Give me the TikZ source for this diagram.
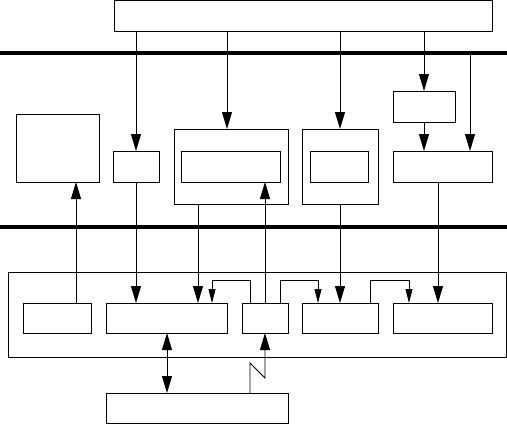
\documentclass[tikz,border=0pt]{standalone}
\usetikzlibrary{arrows.meta,fit}
\begin{document}
\begin{tikzpicture}[x=1pt,y=-1pt,
  box/.style={draw,line width=0.9pt,inner sep=0pt,outer sep=0pt},
  ln/.style={line width=0.9pt},
  arr/.style={ln,-{Triangle[length=17pt,width=10pt]}},
  sarr/.style={ln,-{Triangle[length=14pt,width=7pt]}},
  darr/.style={ln,{Triangle[length=17pt,width=10pt]}-{Triangle[length=17pt,width=10pt]}},
  bus/.style={line width=4pt}]
\useasboundingbox (0,0) rectangle (507,424);
% boxes
\node[box,fit={(114,0.5) (492,31)}] (top) {};
\node[box,fit={(16,114) (99,182)}] (left) {};
\node[box,fit={(113,151) (159,182)}] (s1) {};
\node[box,fit={(174,129) (288,204)}] (bigo) {};
\node[box,fit={(181,151) (280,182)}] (bigi) {};
\node[box,fit={(302,129) (378,204)}] (mido) {};
\node[box,fit={(310,151) (368,182)}] (midi) {};
\node[box,fit={(393,91) (455,122)}] (sm) {};
\node[box,fit={(393,151) (492,182)}] (rt) {};
\node[box,fit={(8,272) (506,357)}] (cont) {};
\node[box,fit={(23,303) (91,333)}] (l1) {};
\node[box,fit={(106,303) (227,333)}] (l2) {};
\node[box,fit={(242,303) (288,333)}] (l3) {};
\node[box,fit={(302,303) (378,333)}] (l4) {};
\node[box,fit={(393,303) (492,333)}] (l5) {};
\node[box,fit={(106,393) (288,423)}] (bot) {};
% buses
\coordinate (b1) at (470,53);
\draw[bus] (0,53) -- (507,53);
\draw[bus] (0,227) -- (507,227);
% top connectors
\draw[arr] (top.south -| s1.north) -- (s1.north);
\draw[arr] (top.south -| 227,0) -- (bigo.north -| 227,0);
\draw[arr] (top.south -| 340,0) -- (mido.north -| 340,0);
\draw[arr] (top.south -| sm.north) -- (sm.north);
\draw[arr] (sm.south) -- (rt.north -| sm.south);
\draw[arr] (b1) -- (rt.north -| b1);
% middle to lower
\draw[arr] (l1.north -| 76,0) -- (left.south -| 76,0);
\draw[arr] (s1.south) -- (l2.north -| s1.south);
\draw[arr] (bigo.south -| 198,0) -- (l2.north -| 198,0);
\draw[arr] (l3.north) -- (bigi.south -| l3.north);
\draw[arr] (mido.south) -- (l4.north -| mido.south);
\draw[arr] (rt.south -| 438,0) -- (l5.north -| 438,0);
% elbows
\draw[sarr] (l3.north -| 250,0) -- (250,280) -- (212,280) -- (l2.north -| 212,0);
\draw[sarr] (l3.north -| 280,0) -- (280,280) -- (318,280) -- (l4.north -| 318,0);
\draw[sarr] (l4.north -| 370,0) -- (370,280) -- (409,280) -- (l5.north -| 409,0);
% bottom
\draw[darr] (l2.south -| 167,0) -- (bot.north -| 167,0);
\draw[arr] (bot.north -| 250,0) -- (250,363) -- (l3.south |- 0,378) -- (l3.south);
\end{tikzpicture}
\end{document}
